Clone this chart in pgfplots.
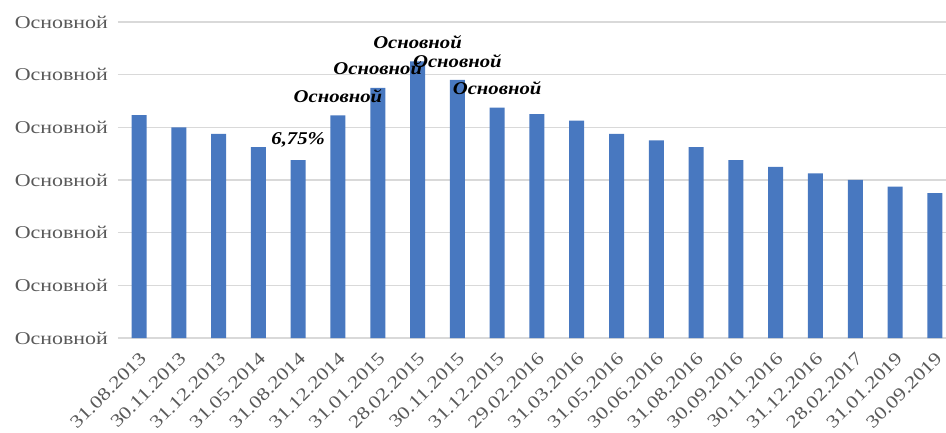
\documentclass[border=0pt]{standalone}
\usepackage{pgfplots}
\pgfplotsset{compat=1.18}
\usepackage{fontspec}
\setmainfont{Liberation Serif}
\newfontfamily\tickfont{Liberation Serif}[FakeStretch=1.22]
\newfontfamily\labfont{Liberation Serif}[FakeStretch=1.15]
\definecolor{barblue}{HTML}{4878C0}
\definecolor{ticktext}{HTML}{595959}
\definecolor{gridgray}{HTML}{D9D9D9}

\begin{document}
\begin{tikzpicture}
\begin{axis}[
  width=621pt, height=237pt, scale only axis,
  xmin=-0.528, xmax=20.28, ymin=0, ymax=12,
  ybar, bar width=11.25pt, bar shift=0pt,
  axis line style={draw=none},
  major tick length=0pt,
  ymajorgrids, grid style={gridgray, line width=1.1pt},
  ytick={0,2,...,12},
  yticklabel={Основной},
  yticklabel style={font=\tickfont\fontsize{13.5}{16}\selectfont, text=ticktext, xshift=-4pt},
  xtick={0,...,20},
  xticklabels={31.08.2013,30.11.2013,31.12.2013,31.05.2014,31.08.2014,31.12.2014,31.01.2015,28.02.2015,30.11.2015,31.12.2015,29.02.2016,31.03.2016,31.05.2016,30.06.2016,31.08.2016,30.09.2016,30.11.2016,31.12.2016,28.02.2017,31.01.2019,30.09.2019},
  xticklabel style={font=\tickfont\fontsize{13.5}{16}\selectfont, text=ticktext, rotate=45, anchor=north east, inner sep=1pt, yshift=-5.6pt, xshift=-6pt},
  clip=false,
]
\addplot[fill=barblue, draw=none] coordinates {
(0,8.46) (1,8.0) (2,7.75) (3,7.25) (4,6.75) (5,8.45) (6,9.5) (7,10.5)
(8,9.8) (9,8.75) (10,8.5) (11,8.25) (12,7.75) (13,7.5) (14,7.25)
(15,6.75) (16,6.5) (17,6.25) (18,6.0) (19,5.75) (20,5.5)
};
\addplot[draw=none, fill=none, point meta=explicit symbolic,
  nodes near coords, every node near coord/.append style={font=\labfont\bfseries\itshape\fontsize{13.5}{16}\selectfont, text=black, yshift=6pt}]
  coordinates {
(4,6.75) [{6,75\%}]
(5,8.45) [Основной]
(6,9.5) [Основной]
(7,10.5) [Основной]
(8,9.8) [Основной]
(9,8.75) [Основной]
};
\coordinate (bl) at (rel axis cs:0,0);
\end{axis}
\pgfresetboundingbox
\path ([shift={(-88.5pt,-70.5pt)}]bl) rectangle ([shift={(621pt,253.5pt)}]bl);
\end{tikzpicture}
\end{document}
